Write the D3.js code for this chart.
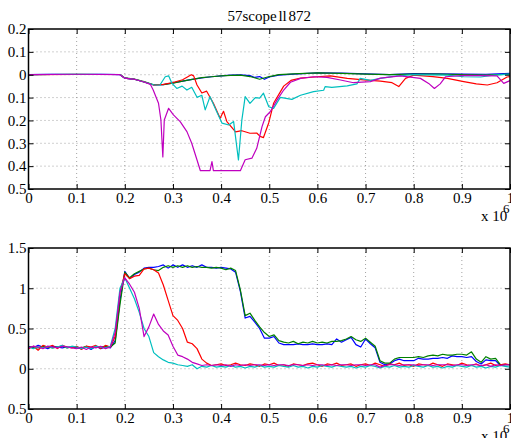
<!DOCTYPE html>
<html>
<head>
<meta charset="utf-8">
<script src="https://cdn.jsdelivr.net/npm/d3@7"></script>
<style>
  body { margin: 0; background: #fff; }
  svg text { font-family: "Liberation Serif", serif; }
</style>
</head>
<body>
<svg id="chart"></svg>
<script>
var width = 511;
var height = 438;
var left = 28.5;
var right = 510;
var font = "Liberation Serif, serif";

// ticks (x is in units of 10^6)
var xTicks = [0, 0.1, 0.2, 0.3, 0.4, 0.5, 0.6, 0.7, 0.8, 0.9, 1];
var topYTicks = [-0.5, -0.4, -0.3, -0.2, -0.1, 0, 0.1, 0.2];
var bottomYTicks = [-0.5, 0, 0.5, 1, 1.5];

var colors = ["#0000ff", "#008000", "#ff0000", "#00bfbf", "#bf00bf"];

// TOP PANEL - [x, value] pairs per trace
var topBlue = [[0,0],[0.05,0.002],[0.1,0.001],[0.15,0.002],[0.19,0],[0.2,-0.015],[0.22,-0.02],[0.24,-0.032],[0.26,-0.045],[0.28,-0.043],[0.3,-0.036],[0.32,-0.028],[0.34,-0.02],[0.36,-0.014],[0.38,-0.009],[0.4,-0.005],[0.42,-0.002],[0.44,-0.001],[0.46,-0.004],[0.47,-0.012],[0.48,-0.008],[0.49,-0.02],[0.5,-0.01],[0.52,-0.002],[0.55,0.003],[0.6,0.008],[0.65,0.007],[0.7,0.004],[0.75,0],[0.8,0.005],[0.85,0.004],[0.9,0.003],[0.95,0.002],[1,0.006]];
var topGreen = [[0,0],[0.05,0.001],[0.1,0.002],[0.15,0.001],[0.19,0.001],[0.2,-0.014],[0.22,-0.019],[0.24,-0.03],[0.26,-0.044],[0.28,-0.044],[0.3,-0.037],[0.32,-0.028],[0.34,-0.02],[0.36,-0.013],[0.38,-0.009],[0.4,-0.005],[0.42,-0.003],[0.44,-0.002],[0.46,-0.008],[0.48,-0.02],[0.5,-0.008],[0.52,0],[0.55,0.004],[0.6,0.008],[0.65,0.006],[0.7,0.003],[0.75,0],[0.8,0.003],[0.85,0.003],[0.9,0.001],[0.95,-0.002],[1,0.003]];
var topRed = [[0,0],[0.1,0.001],[0.19,0.001],[0.2,-0.015],[0.22,-0.02],[0.24,-0.032],[0.26,-0.045],[0.28,-0.042],[0.3,-0.034],[0.32,-0.022],[0.33,-0.01],[0.338,0],[0.343,-0.005],[0.35,-0.045],[0.36,-0.08],[0.37,-0.072],[0.384,-0.125],[0.398,-0.19],[0.405,-0.16],[0.412,-0.205],[0.43,-0.25],[0.443,-0.245],[0.46,-0.256],[0.474,-0.255],[0.481,-0.27],[0.488,-0.275],[0.499,-0.21],[0.509,-0.125],[0.523,-0.075],[0.53,-0.05],[0.545,-0.025],[0.565,-0.015],[0.6,-0.009],[0.627,-0.005],[0.662,-0.016],[0.696,-0.023],[0.731,-0.028],[0.755,-0.035],[0.769,-0.052],[0.783,-0.016],[0.8,-0.002],[0.84,-0.008],[0.87,-0.016],[0.904,-0.03],[0.93,-0.04],[0.953,-0.045],[0.973,-0.035],[0.994,-0.01],[1,-0.008]];
var topCyan = [[0,0],[0.1,0.002],[0.19,0.001],[0.2,-0.015],[0.22,-0.02],[0.24,-0.032],[0.26,-0.044],[0.273,-0.045],[0.284,-0.009],[0.291,-0.005],[0.298,-0.038],[0.308,-0.06],[0.319,-0.05],[0.329,-0.067],[0.339,-0.055],[0.35,-0.099],[0.36,-0.09],[0.367,-0.154],[0.377,-0.096],[0.391,-0.162],[0.402,-0.212],[0.416,-0.22],[0.426,-0.205],[0.436,-0.373],[0.443,-0.2],[0.45,-0.096],[0.46,-0.125],[0.471,-0.1],[0.48,-0.102],[0.488,-0.081],[0.499,-0.14],[0.509,-0.147],[0.523,-0.099],[0.547,-0.108],[0.565,-0.09],[0.592,-0.074],[0.613,-0.068],[0.616,-0.052],[0.63,-0.055],[0.662,-0.049],[0.682,-0.04],[0.689,-0.016],[0.71,-0.025],[0.731,-0.016],[0.765,-0.005],[0.8,0],[0.87,-0.002],[0.904,-0.009],[0.939,-0.01],[0.966,-0.002],[1,0.003]];
var topMagenta = [[0,0],[0.1,0.002],[0.19,0],[0.2,-0.015],[0.22,-0.02],[0.24,-0.032],[0.253,-0.042],[0.259,-0.067],[0.27,-0.125],[0.275,-0.198],[0.279,-0.36],[0.282,-0.198],[0.291,-0.147],[0.301,-0.176],[0.315,-0.205],[0.329,-0.249],[0.339,-0.3],[0.35,-0.373],[0.357,-0.42],[0.377,-0.42],[0.381,-0.38],[0.384,-0.42],[0.44,-0.42],[0.45,-0.372],[0.464,-0.365],[0.474,-0.322],[0.485,-0.227],[0.492,-0.184],[0.502,-0.162],[0.516,-0.111],[0.53,-0.067],[0.544,-0.033],[0.565,-0.016],[0.592,-0.009],[0.62,-0.012],[0.648,-0.023],[0.675,-0.035],[0.71,-0.03],[0.731,-0.015],[0.772,-0.005],[0.814,-0.016],[0.831,-0.038],[0.843,-0.06],[0.855,-0.04],[0.866,-0.009],[0.904,-0.003],[0.973,-0.005],[0.987,-0.038],[1,-0.026]];

// BOTTOM PANEL - one value every 0.01 (x 10^6)
var bottomX = d3.range(101).map((i) => i / 100);
var botBlue = [0.28,0.26,0.29,0.27,0.25,0.28,0.27,0.26,0.27,0.27, 0.26,0.25,0.27,0.24,0.28,0.25,0.27,0.26,0.35,0.85,
  1.21,1.12,1.17,1.2,1.25,1.26,1.26,1.27,1.29,1.25, 1.29,1.26,1.29,1.26,1.28,1.26,1.29,1.26,1.26,1.25,
  1.26,1.25,1.24,1.2,0.96,0.63,0.65,0.58,0.5,0.38, 0.38,0.4,0.32,0.3,0.3,0.3,0.31,0.3,0.3,0.31,
  0.3,0.3,0.31,0.3,0.37,0.33,0.36,0.39,0.3,0.27, 0.37,0.31,0.26,0.08,0.05,0.06,0.1,0.12,0.1,0.1,
  0.1,0.13,0.12,0.12,0.13,0.13,0.14,0.13,0.16,0.15, 0.15,0.14,0.15,0.09,0.06,0.11,0.1,0.1,0.04,0.05, 0.05];
var botGreen = [0.27,0.27,0.26,0.28,0.27,0.26,0.27,0.28,0.26,0.27, 0.27,0.26,0.28,0.26,0.27,0.27,0.28,0.27,0.32,0.8,
  1.2,1.13,1.18,1.21,1.24,1.25,1.23,1.22,1.26,1.28, 1.26,1.28,1.26,1.28,1.26,1.27,1.26,1.26,1.25,1.26,
  1.25,1.23,1.25,1.22,0.98,0.66,0.69,0.6,0.52,0.45, 0.4,0.42,0.35,0.33,0.32,0.34,0.31,0.33,0.32,0.34,
  0.32,0.33,0.32,0.34,0.34,0.35,0.37,0.4,0.36,0.34, 0.38,0.33,0.28,0.1,0.07,0.07,0.12,0.14,0.14,0.14,
  0.14,0.15,0.14,0.16,0.17,0.16,0.18,0.17,0.17,0.18, 0.18,0.17,0.21,0.12,0.08,0.15,0.12,0.13,0.05,0.05, 0.05];
var botRed = [0.25,0.28,0.23,0.29,0.27,0.29,0.25,0.29,0.27,0.26, 0.28,0.24,0.28,0.27,0.29,0.25,0.29,0.27,0.4,0.95,
  1.18,1.12,1.15,1.16,1.24,1.25,1.23,1.19,1.04,0.85, 0.66,0.6,0.5,0.33,0.31,0.25,0.12,0.07,0.04,0.05,
  0.06,0.04,0.05,0.07,0.05,0.04,0.06,0.05,0.03,0.06, 0.05,0.07,0.04,0.05,0.03,0.06,0.05,0.04,0.06,0.07,
  0.05,0.03,0.06,0.05,0.07,0.04,0.05,0.06,0.03,0.05, 0.06,0.04,0.07,0.05,0.03,0.06,0.05,0.07,0.04,0.05,
  0.03,0.06,0.05,0.04,0.07,0.05,0.03,0.06,0.05,0.04, 0.07,0.05,0.04,0.06,0.03,0.05,0.07,0.04,0.05,0.06, 0.05];
var botCyan = [0.27,0.25,0.27,0.26,0.28,0.26,0.27,0.29,0.26,0.28, 0.27,0.25,0.27,0.25,0.28,0.27,0.26,0.28,0.5,1.0,
  1.13,1.0,0.87,0.7,0.5,0.4,0.2,0.15,0.11,0.08, 0.07,0.05,0.04,0.03,0.05,0,0.03,0.02,0.04,0.02,
  0.03,0.02,0.04,0.02,0.03,0.01,0.03,0.02,0.04,0.02, 0.03,0.02,0.04,0.03,0.02,0.04,0.02,0.03,0.01,0.03,
  0.02,0.04,0.03,0.02,0.04,0.03,0.02,0.03,0.01,0.03, 0.02,0.04,0.03,0.01,0.03,0.02,0.04,0.02,0.03,0.02,
  0.04,0.03,0.02,0.04,0.02,0.03,0.01,0.03,0.02,0.04, 0.03,0.02,0.04,0.02,0.03,0.01,0.03,0.02,0.04,0.03, 0.02];
var botMagenta = [0.26,0.28,0.27,0.25,0.28,0.27,0.26,0.28,0.27,0.26, 0.25,0.27,0.24,0.27,0.26,0.28,0.25,0.27,0.45,0.95,
  1.13,1.05,0.95,0.75,0.4,0.52,0.68,0.55,0.47,0.42, 0.28,0.17,0.15,0.12,0.08,0.06,0.04,0.05,0.04,0.05,
  0.04,0.05,0.03,0.05,0.04,0.05,0.04,0.05,0.05,0.04, 0.05,0.04,0.05,0.05,0.04,0.05,0.05,0.04,0.05,0.04,
  0.05,0.05,0.04,0.05,0.04,0.05,0.05,0.04,0.05,0.05, 0.04,0.05,0.05,0.02,0.04,0.05,0.05,0.04,0.05,0.05,
  0.05,0.04,0.05,0.05,0.04,0.05,0.05,0.05,0.04,0.05, 0.05,0.04,0.05,0.05,0.04,0.05,0.03,0.05,0.04,0.05, 0.05];

var svg = d3.select("#chart")
  .attr("width", width)
  .attr("height", height)
  .style("background", "#fff");

// labels in the picture show no minus signs
var fmt = (d) => String(Math.abs(Math.round(d * 10) / 10));

function drawPanel(top, bottom, yDomain, yTicks, traces) {
  var x = d3.scaleLinear().domain([0, 1]).range([left, right]);
  var y = d3.scaleLinear().domain(yDomain).range([bottom, top]);
  var w = right - left;
  var h = bottom - top;

  // dotted grid
  var grid = svg.append("g").attr("stroke", "#8c8c8c").attr("stroke-width", 0.8).attr("stroke-dasharray", "1,3");
  grid.selectAll(".gx").data(xTicks.slice(1, -1)).enter().append("line")
    .attr("x1", (d) => x(d)).attr("x2", (d) => x(d))
    .attr("y1", top).attr("y2", bottom);
  grid.selectAll(".gy").data(yTicks.slice(1, -1)).enter().append("line")
    .attr("x1", left).attr("x2", right)
    .attr("y1", (d) => y(d)).attr("y2", (d) => y(d));

  // traces, in MATLAB colour order
  var line = d3.line().x((d) => x(d[0])).y((d) => y(d[1]));
  traces.forEach((t, i) => {
    svg.append("path")
      .datum(t)
      .attr("fill", "none")
      .attr("stroke", colors[i])
      .attr("stroke-width", 1.2)
      .attr("stroke-linejoin", "round")
      .attr("d", line);
  });

  // inward ticks on all four sides
  var styleAxis = (g) => {
    g.attr("font-family", font).attr("font-size", 15);
    g.select(".domain").remove();
    g.selectAll("line").attr("stroke", "#000").attr("stroke-width", 1);
    g.selectAll("text").attr("fill", "#000");
  };
  svg.append("g").attr("transform", `translate(0,${bottom})`)
    .call(d3.axisBottom(x).tickValues(xTicks).tickFormat(fmt).tickSizeInner(-5).tickSizeOuter(0).tickPadding(3))
    .call(styleAxis);
  svg.append("g").attr("transform", `translate(0,${top})`)
    .call(d3.axisTop(x).tickValues(xTicks).tickFormat("").tickSizeInner(-5).tickSizeOuter(0))
    .call(styleAxis);
  svg.append("g").attr("transform", `translate(${left},0)`)
    .call(d3.axisLeft(y).tickValues(yTicks).tickFormat(fmt).tickSizeInner(-5).tickSizeOuter(0).tickPadding(2))
    .call(styleAxis);
  svg.append("g").attr("transform", `translate(${right},0)`)
    .call(d3.axisRight(y).tickValues(yTicks).tickFormat("").tickSizeInner(-5).tickSizeOuter(0))
    .call(styleAxis);

  // box
  svg.append("rect")
    .attr("x", left).attr("y", top)
    .attr("width", w).attr("height", h)
    .attr("fill", "none")
    .attr("stroke", "#000")
    .attr("stroke-width", 1.5);

  // x 10^6 exponent label
  svg.append("text")
    .attr("x", right - 29)
    .attr("y", bottom + 32)
    .attr("font-family", font)
    .attr("font-size", 15)
    .text("x 10");
  svg.append("text")
    .attr("x", right - 7)
    .attr("y", bottom + 24)
    .attr("font-family", font)
    .attr("font-size", 13)
    .text("6");
}

drawPanel(29, 189, [-0.5, 0.2], topYTicks, [topBlue, topGreen, topRed, topCyan, topMagenta]);

var zip = (vals) => vals.map((v, i) => [bottomX[i], v]);
drawPanel(248, 409, [-0.5, 1.5], bottomYTicks, [zip(botBlue), zip(botGreen), zip(botRed), zip(botCyan), zip(botMagenta)]);

// CHART TITLE
svg.append("text")
  .attr("x", (left + right) / 2)
  .attr("y", 21)
  .attr("text-anchor", "middle")
  .attr("font-family", font)
  .attr("font-size", 15)
  .attr("word-spacing", -2)
  .text("57scope ll 872");
</script>
</body>
</html>
